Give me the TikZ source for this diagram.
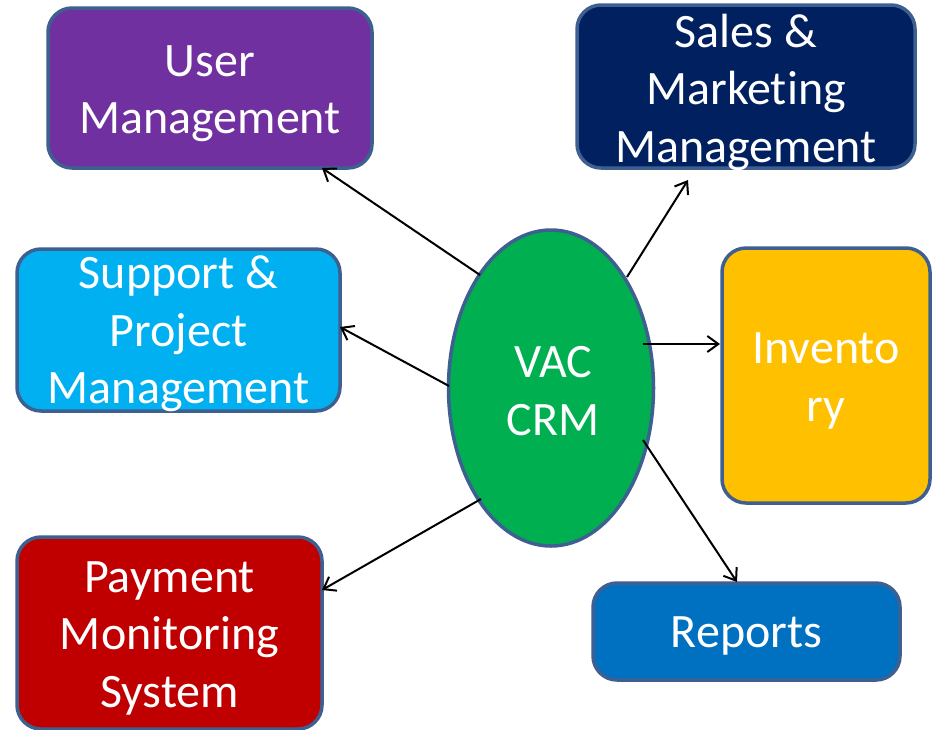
\documentclass[tikz,border=0pt]{standalone}
\usepackage{fontspec}
\setmainfont[RawFeature={-liga;-calt;-dlig}]{Carlito}
\usetikzlibrary{arrows.meta,shapes.geometric}
\definecolor{bordc}{RGB}{62,96,145}
\definecolor{cpurple}{RGB}{112,48,160}
\definecolor{cnavy}{RGB}{0,32,96}
\definecolor{clblue}{RGB}{0,176,240}
\definecolor{cgold}{RGB}{255,192,0}
\definecolor{cred}{RGB}{192,0,0}
\definecolor{cblue}{RGB}{0,112,192}
\definecolor{cgreen}{RGB}{0,176,80}
\tikzset{
  modbox/.style={draw=bordc, line width=3.5pt, rounded corners=24pt, rectangle, inner sep=0pt},
  hub/.style={draw=bordc, line width=3.5pt, ellipse, fill=cgreen, inner sep=0pt},
  lbl/.style={text=white, align=center, inner sep=0pt, font=\fontsize{48}{57.5}\selectfont},
  link/.style={-{Straight Barb[length=11pt,width=16pt,line width=2pt]}, line width=2pt, black}
}
\begin{document}
\begin{tikzpicture}[x=1pt,y=-1pt]
\useasboundingbox (0,0) rectangle (936,729);
\node[modbox, fill=cpurple, minimum width=324pt, minimum height=160pt] (um) at (210,88) {};
\node[lbl] (umt) at (210,93.5) {User\\Management};
\node[modbox, fill=cnavy, minimum width=338pt, minimum height=163pt] (sm) at (746,86.5) {};
\node[lbl] (smt) at (746,92) {Sales \&\\Market\kern0pt ing\\Management};
\node[modbox, fill=clblue, minimum width=323pt, minimum height=162pt] (sp) at (178.5,330) {};
\node[lbl] (spt) at (178.5,334) {Support \&\\Project\\Management};
\node[modbox, fill=cgold, minimum width=208pt, minimum height=255pt] (inv) at (826,375.5) {};
\node[lbl] (invt) at (826,381) {Invento\\ry};
\node[modbox, fill=cred, minimum width=305pt, minimum height=192pt] (pay) at (169.5,633) {};
\node[lbl] (payt) at (169.5,638) {Payment\\Monitoring\\System};
\node[modbox, fill=cblue, minimum width=307pt, minimum height=97pt] (rep) at (746.5,631.5) {};
\node[lbl] (rept) at (746.5,636) {Reports};
\node[hub, minimum width=205pt, minimum height=316pt] (crm) at (551,388) {};
\node[lbl] (crmt) at (553,391) {VAC\\CRM};
\coordinate (s1) at (480,275);
\coordinate (e1) at (322,168);
\coordinate (s2) at (627,277);
\coordinate (e2) at (688,180);
\coordinate (s3) at (449,386);
\coordinate (e3) at (340,327);
\coordinate (s4) at (643,344);
\coordinate (e4) at (720,344);
\coordinate (s5) at (481,499);
\coordinate (e5) at (322,590);
\coordinate (s6) at (643,440);
\coordinate (e6) at (737,582);
\draw[link] (s1) -- (e1);
\draw[link] (s2) -- (e2);
\draw[link] (s3) -- (e3);
\draw[link] (s4) -- (e4);
\draw[link] (s5) -- (e5);
\draw[link] (s6) -- (e6);
\end{tikzpicture}
\end{document}
